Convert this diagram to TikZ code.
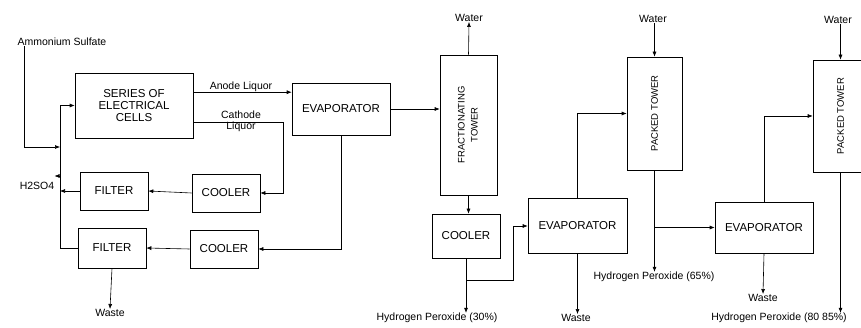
\documentclass[tikz,border=0pt]{standalone}
\usepackage{fontspec}
\setmainfont{Liberation Sans}
\usepackage{graphicx}
\usetikzlibrary{arrows.meta}

\begin{document}
\begin{tikzpicture}[x=1pt, y=-1pt,
        font=\fontsize{11.5}{12}\selectfont,
        line width=0.6pt,
        arrow/.style={-{Latex[length=5pt,width=4pt]}},
        vessel/.style={draw, inner sep=0pt, align=center},
        tower/.style={draw, inner sep=0pt, font=\fontsize{9.5}{13}\selectfont},
        note/.style={font=\fontsize{10.5}{11}\selectfont, inner sep=0pt, align=center}
    ]
        \useasboundingbox (0,0) rectangle (861,328);
        \clip (0,0) rectangle (861,328);

        % electrolysis part
        \node[vessel, minimum width=118pt, minimum height=65pt] (cells) at (134,105.5) {SERIES OF\\ELECTRICAL\\CELLS};
        \node[vessel, minimum width=98pt, minimum height=52pt] (evapa) at (341,109) {EVAPORATOR};
        \node[vessel, minimum width=68pt, minimum height=38pt] (filtera) at (114,191) {FILTER};
        \node[vessel, minimum width=68pt, minimum height=38pt] (coolera) at (226,193) {COOLER};
        \node[vessel, minimum width=68pt, minimum height=40pt] (filterb) at (112,248) {FILTER};
        \node[vessel, minimum width=68pt, minimum height=38pt] (coolerb) at (224,249) {COOLER};

        % peroxide part
        \node[tower, minimum width=57pt, minimum height=140pt] (fract) at (468.5,125)
            {\rotatebox{90}{\begin{tabular}{@{}c@{}}FRACTIONATING\\TOWER\end{tabular}}};
        \node[vessel, minimum width=68pt, minimum height=44pt] (coolerc) at (466,236) {COOLER};
        \node[vessel, minimum width=99pt, minimum height=55pt] (evapb) at (577.5,225.5) {EVAPORATOR};
        \node[tower, minimum width=55pt, minimum height=113pt] (packeda) at (654.5,113.5) {\rotatebox{90}{PACKED TOWER}};
        \node[vessel, minimum width=98pt, minimum height=51pt] (evapc) at (764,227.5) {EVAPORATOR};
        \node[tower, minimum width=55pt, minimum height=112pt] (packedb) at (840.5,116) {\rotatebox{90}{PACKED TOWER}};

        % stream labels
        \node[note] (ammon) at (62,42) {Ammonium Sulfate};
        \node[note] (acid) at (37,186) {H2SO4};
        \node[note] (anode) at (241,87) {Anode Liquor};
        \node[note] (cathode) at (241,121) {Cathode\\Liquor};
        \node[note] (wastea) at (110,313) {Waste};
        \node[note] (watera) at (469,18) {Water};
        \node[note] (perox30) at (437,318) {Hydrogen Peroxide (30\%)};
        \node[note] (wasteb) at (576,318) {Waste};
        \node[note] (waterb) at (653,19) {Water};
        \node[note] (perox65) at (654,277) {Hydrogen Peroxide (65\%)};
        \node[note] (wastec) at (763,298) {Waste};
        \node[note] (waterc) at (838,20) {Water};
        \node[note] (perox85) at (779,318) {Hydrogen Peroxide (80 85\%)};

        \coordinate (feedjoin) at (60,147);
        \coordinate (rettop) at (60,105.5);
        \coordinate (acidjoin) at (60,176);
        \coordinate (cathturn) at (283,122);
        \coordinate (split30) at (466,280);
        \coordinate (bend30) at (513,226);

        % feed and recycle
        \draw[arrow] ([xshift=7pt]ammon.south west) |- (feedjoin);
        \draw[arrow] (filterb.west) -| (rettop) -- (cells.west);
        \draw[arrow] (filtera.west) -- (filtera.west -| rettop);
        \draw[arrow] (acidjoin) -- (acid.north east |- acidjoin);

        \draw[arrow] (cells.east |- anode.south) -- (evapa.west |- anode.south);
        \draw[arrow] (cells.east |- cathturn) -- (cathturn) |- (coolera.east);
        \draw[arrow] (coolera.west) -- (filtera.east);
        \draw[arrow] (coolerb.west) -- (filterb.east);
        \draw[arrow] (filterb.south) -- (wastea.north);
        \draw[arrow] (evapa.south) |- (coolerb.east);

        \draw[arrow] (evapa.east) -- (fract.west |- evapa.east);
        \draw[arrow] (fract.north) -- (watera.south);
        \draw[arrow] (fract.south) -- (fract.south |- coolerc.north);
        \draw[arrow] (coolerc.south) -- (coolerc.south |- perox30.north);
        \draw[arrow] (split30) -| (bend30) -- (evapb.west |- bend30);

        \draw[arrow] (evapb.south) -- (evapb.south |- wasteb.north);
        \draw[arrow] (evapb.north) |- (packeda.west);
        \draw[arrow] (packeda.north |- waterb.south) -- (packeda.north);
        \draw[arrow] (packeda.south) -- (packeda.south |- perox65.north);
        \draw[arrow] (packeda.south |- evapc.west) -- (evapc.west);

        \draw[arrow] (evapc.north) |- (packedb.west);
        \draw[arrow] (evapc.south) -- (wastec.north);
        \draw[arrow] (packedb.north |- waterc.south) -- (packedb.north);
        \draw[arrow] (packedb.south) -- (packedb.south |- perox85.north);
    \end{tikzpicture}
\end{document}
